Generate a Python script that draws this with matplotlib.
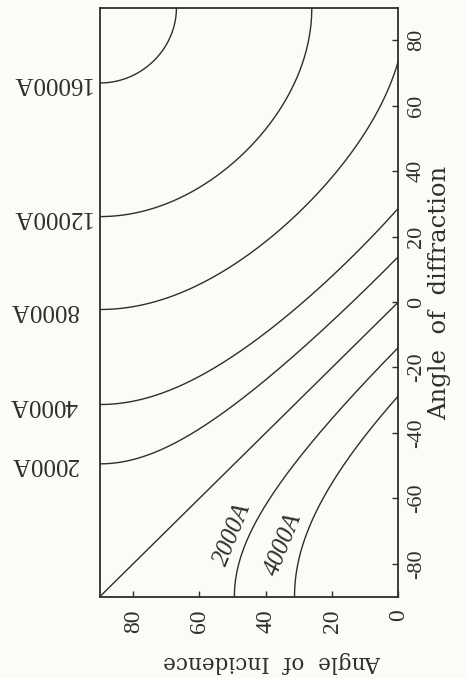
import numpy as np
import matplotlib
matplotlib.use('Agg')
import matplotlib.pyplot as plt
import matplotlib.transforms as mtransforms

# grating: 1200 lines/mm -> groove spacing in Angstrom
groove_spacing = 8333.0
wavelengths_pos = [2000, 4000, 8000, 12000, 16000]   # first order (+1)
wavelengths_neg = [2000, 4000]                         # first order (-1)
side_labels = ['2000A', '4000A', '8000A', '12000A', '16000A']
inner_labels = ['2000A', '4000A']
inner_label_pos = [(50.0, -71.0), (34.5, -74.0)]       # (incidence, diffraction)

xticks = [80, 60, 40, 20, 0]
yticks = [-80, -60, -40, -20, 0, 20, 40, 60, 80]

ink = '#2e2e2e'
paper = '#fcfbf8'
plt.rcParams['font.family'] = ['Liberation Serif', 'DejaVu Serif']


def order_curve(c):
    # sin(a) + sin(b) = c, a = incidence, b = diffraction
    lo = np.arcsin(max(0.0, c - 1.0))
    hi = np.arcsin(min(1.0, c + 1.0))
    a = np.linspace(lo, hi, 800)
    b = np.arcsin(np.clip(c - np.sin(a), -1, 1))
    return np.degrees(a), np.degrees(b)


fig = plt.figure(figsize=(4.67, 6.78), dpi=100, facecolor=paper)
ax = fig.add_axes([0.2141, 0.1202, 0.639, 0.8687], facecolor=paper)

# zero order
x0, y0 = order_curve(0.0)
ax.plot(x0, y0, color=ink, lw=1.0)
for lam in wavelengths_pos:
    x, y = order_curve(lam / groove_spacing)
    ax.plot(x, y, color=ink, lw=1.0)
for lam in wavelengths_neg:
    x, y = order_curve(-lam / groove_spacing)
    ax.plot(x, y, color=ink, lw=1.0)

ax.set_xlim(90, 0)
ax.set_ylim(-90, 90)

ax.set_xticks(xticks)
ax.set_xticklabels([str(v) for v in xticks], rotation=90, fontsize=17)
ax.yaxis.tick_right()
ax.set_yticks(yticks)
ax.set_yticklabels([str(v) for v in yticks], rotation=90, fontsize=16, va='center')
ax.tick_params(direction='in', length=4, width=1.0, color=ink, labelcolor=ink)
ax.tick_params(axis='x', pad=9)
ax.tick_params(axis='y', pad=6)
for s in ax.spines.values():
    s.set_color(ink)
    s.set_linewidth(1.3)

# wavelength labels on the left edge (upside down)
trans = mtransforms.blended_transform_factory(ax.transAxes, ax.transData)
for lam, lab in zip(wavelengths_pos, side_labels):
    yl = np.degrees(np.arcsin(lam / groove_spacing - 1.0))
    ax.text(-0.302, yl, lab, transform=trans, rotation=180, rotation_mode='anchor',
            ha='right', va='center', fontsize=18, color=ink)

for lab, (xi, yi) in zip(inner_labels, inner_label_pos):
    ax.text(xi, yi, lab, rotation=68, rotation_mode='anchor', ha='center', va='center',
            fontsize=18, style='italic', color=ink)

fig.text(272 / 467, 1 - 662 / 678, 'Angle  of  Incidence', rotation=180,
         ha='center', va='center', fontsize=15.5, color=ink, family='DejaVu Serif')
fig.text(440 / 467, 1 - 293 / 678, 'Angle  of  diffraction', rotation=90,
         ha='center', va='center', fontsize=17.5, color=ink, family='DejaVu Serif')

fig.savefig('out.png', dpi=100, facecolor=paper)
